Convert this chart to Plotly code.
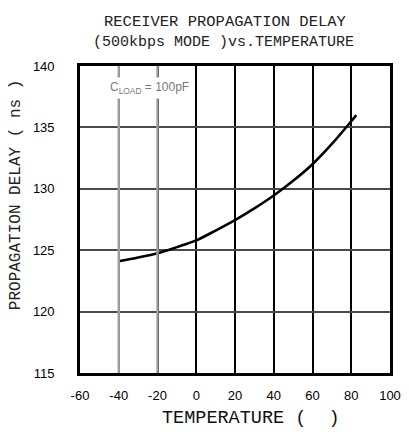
import plotly.graph_objects as go

# Data
temperature = [-40, -30, -20, -10, 0, 10, 20, 30, 40, 50, 60, 70, 80, 82.6]
delay_ns = [124.1, 124.4, 124.75, 125.25, 125.8, 126.6, 127.45, 128.4, 129.45, 130.65, 132.0, 133.65, 135.5, 136.0]

x_ticks = [-60, -40, -20, 0, 20, 40, 60, 80, 100]
y_ticks = [115, 120, 125, 130, 135, 140]
gray_grid_x = [-40, -20]

title_line1 = "RECEIVER PROPAGATION DELAY"
title_line2 = "(500kbps MODE )vs.TEMPERATURE"
x_title = "TEMPERATURE (  )"
y_title = "PROPAGATION DELAY ( ns )"
load_label = "C<sub>LOAD</sub> = 100pF"

mono = "Liberation Mono, DejaVu Sans Mono, monospace"
sans = "Liberation Sans, Arial, sans-serif"

fig = go.Figure()
fig.add_trace(go.Scatter(
    x=temperature, y=delay_ns, mode="lines",
    line=dict(color="black", width=2.6, shape="spline", smoothing=0.8),
    showlegend=False, hoverinfo="skip"))

for gx in gray_grid_x:
    fig.add_shape(type="line", xref="x", yref="paper", x0=gx, x1=gx, y0=0, y1=1,
                  line=dict(color="#a0a0a0", width=2.4), layer="above")

# page body has an 8px margin; plot area is placed at x 80..390, y 66..373
fig.update_layout(
    width=409, height=435,
    margin=dict(l=72, r=27, t=58, b=70),
    paper_bgcolor="white", plot_bgcolor="white",
    showlegend=False,
    font=dict(family=sans, color="black", size=13),
)
fig.update_xaxes(
    range=[-60, 100], tickvals=x_ticks, ticktext=[str(v) for v in x_ticks],
    showgrid=True, gridcolor="black", gridwidth=1.6,
    showline=True, linecolor="black", linewidth=2.6, mirror=True,
    zeroline=False, ticks="", ticklabelstandoff=9,
    tickfont=dict(family=sans, size=13, color="black"),
)
fig.update_yaxes(
    range=[115, 140], tickvals=y_ticks, ticktext=[str(v) for v in y_ticks],
    showgrid=True, gridcolor="#4a4a4a", gridwidth=1.8,
    showline=True, linecolor="black", linewidth=2.6, mirror=True,
    zeroline=False, ticks="", ticklabelstandoff=20,
    tickfont=dict(family=sans, size=13, color="black"),
)

ann = [
    dict(text=title_line1, x=0.468, y=1.143, font=dict(family=mono, size=15.5, color="#222")),
    dict(text=title_line2, x=0.463, y=1.078, font=dict(family=mono, size=15, color="#222")),
    dict(text=x_title, x=0.552, y=-0.147, font=dict(family=mono, size=18.5, color="#111")),
    dict(text=y_title, x=-0.206, y=1 - (195 - 66) / 307, textangle=-90,
         font=dict(family=mono, size=16, color="#222")),
]
for a in ann:
    a.update(xref="paper", yref="paper", showarrow=False, xanchor="center", yanchor="middle")
    fig.add_annotation(**a)
fig.add_annotation(text=load_label, xref="paper", yref="paper", x=0.223, y=0.928,
                   showarrow=False, xanchor="center", yanchor="middle",
                   bgcolor="white", borderpad=2,
                   font=dict(family="Liberation Sans Narrow, Liberation Sans, sans-serif", size=12, color="#7a7a7a"))

fig.write_html("out.html")
